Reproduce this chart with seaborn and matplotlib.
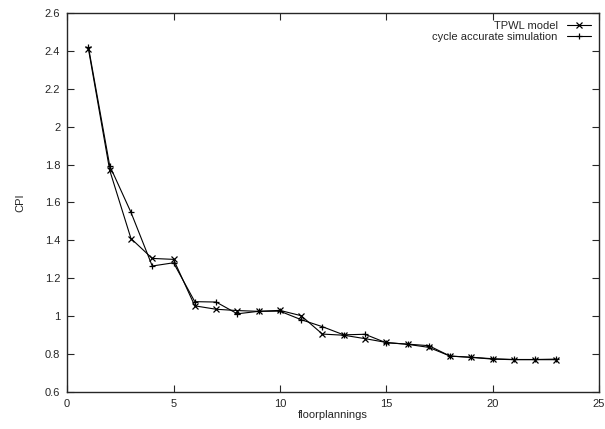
import numpy as np
import pandas as pd
import matplotlib
matplotlib.use("Agg")
import matplotlib.pyplot as plt
import seaborn as sns
from matplotlib.ticker import FormatStrFormatter

# floorplanning index and CPI
floorplannings = list(range(1, 24))
tpwl_model = [2.41, 1.77, 1.41, 1.305, 1.30, 1.055, 1.037, 1.03, 1.026, 1.031,
              1.003, 0.906, 0.90, 0.882, 0.862, 0.852, 0.836, 0.790, 0.783,
              0.774, 0.771, 0.771, 0.771]
cycle_accurate = [2.42, 1.794, 1.548, 1.265, 1.282, 1.077, 1.075, 1.013, 1.026,
                  1.027, 0.982, 0.945, 0.902, 0.905, 0.860, 0.853, 0.845, 0.790,
                  0.784, 0.776, 0.772, 0.772, 0.774]
series_names = ["TPWL model", "cycle accurate simulation"]

df = pd.concat([
    pd.DataFrame({"floorplannings": floorplannings, "CPI": tpwl_model, "series": series_names[0]}),
    pd.DataFrame({"floorplannings": floorplannings, "CPI": cycle_accurate, "series": series_names[1]}),
])

sns.set_style("ticks")
plt.rcParams["font.family"] = ["Liberation Sans", "DejaVu Sans"]
plt.rcParams["font.size"] = 8

fig, ax = plt.subplots(figsize=(6.05, 4.29), dpi=100)
fig.subplots_adjust(left=0.111, right=0.990, top=0.970, bottom=0.086)

sns.lineplot(data=df, x="floorplannings", y="CPI", hue="series", style="series",
             palette=["black", "black"], markers={series_names[0]: "x", series_names[1]: "+"},
             dashes=False, markersize=5, markeredgewidth=0.9, markeredgecolor="black",
             linewidth=0.8, legend=False, ax=ax)

ax.set_xlim(0, 25)
ax.set_ylim(0.6, 2.6)
ax.set_xticks(np.arange(0, 26, 5))
ax.set_yticks(np.arange(0.6, 2.61, 0.2))
ax.yaxis.set_major_formatter(FormatStrFormatter("%g"))
ax.tick_params(direction="in", top=True, right=True, length=5, width=0.8, labelsize=8, pad=5)
for s in ax.spines.values():
    s.set_visible(True)
    s.set_linewidth(1.0)
ax.set_xlabel("floorplannings", fontsize=8, labelpad=1)
ax.set_ylabel("CPI", fontsize=8, labelpad=14)

# gnuplot-style key: label first, then line sample with marker
ax.legend(ax.get_lines(), series_names, loc="upper right", frameon=False,
          markerfirst=False, fontsize=8, handlelength=2.2, borderaxespad=0.3,
          labelspacing=0.1)

fig.savefig("out.png", dpi=100)
